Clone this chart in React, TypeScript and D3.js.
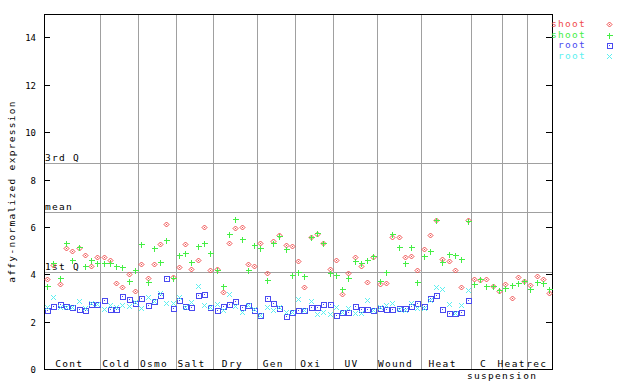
import React from "react";
import * as d3 from "d3";

const groups = ["Cont", "Cold", "Osmo", "Salt", "Dry", "Gen", "Oxi", "UV", "Wound", "Heat", "C", "Heat", "rec"];
const groupSizes = [9, 6, 6, 6, 7, 6, 6, 7, 7, 8, 5, 4, 4];
const subLabel = "suspension";
const yTicks = [0, 2, 4, 6, 8, 10, 12, 14];
const refLines = [
  { label: "3rd Q", value: 8.7 },
  { label: "mean", value: 6.63 },
  { label: "1st Q", value: 4.1 },
];

const shoot1: number[] = [
  3.81, 4.4, 3.58, 5.1, 5.0, 5.1, 4.84, 4.36, 4.72,
  4.72, 4.61, 3.63, 3.46, 4.01, 3.29,
  4.43, 3.84, 4.43, 5.27, 6.12, 3.91,
  4.3, 5.27, 4.25, 4.63, 5.99, 4.19,
  4.25, 3.28, 5.31, 5.95, 5.99, 4.43, 4.36,
  5.31, 4.05, 5.41, 5.67, 5.23, 5.18,
  4.58, 3.46, 5.57, 5.69, 5.31, 4.25,
  4.63, 3.16, 4.05, 4.72, 4.37, 3.67, 4.72,
  3.58, 3.63, 5.57, 5.57, 4.72, 4.77, 4.18,
  5.06, 5.65, 6.28, 4.64, 4.55, 4.19, 3.46, 6.28,
  3.8, 3.75, 3.8, 3.5, 3.29,
  3.6, 3.0, 3.88, 3.71,
  3.54, 3.92, 3.8, 3.21,
];
const shoot2: number[] = [
  3.5, 4.47, 3.84, 5.31, 4.61, 5.15, 4.37, 4.61, 4.47,
  4.47, 4.47, 4.37, 4.32, 3.72, 4.19,
  5.27, 3.67, 5.1, 4.53, 5.44, 3.84,
  4.81, 4.89, 4.53, 5.18, 5.31, 4.89,
  4.19, 3.51, 5.69, 6.33, 5.48, 4.19, 5.23,
  5.1, 3.75, 5.31, 5.62, 5.06, 3.97,
  4.09, 3.92, 5.6, 5.74, 5.31, 4.05,
  3.97, 3.39, 3.84, 4.57, 4.47, 4.63, 4.77,
  3.72, 4.09, 5.69, 5.15, 4.47, 5.15, 3.67,
  4.78, 4.98, 6.28, 4.51, 4.85, 4.81, 4.64, 6.24,
  3.6, 3.8, 3.5, 3.5, 3.33,
  3.42, 3.54, 3.63, 3.71,
  3.37, 3.67, 3.63, 3.37,
];
const root1: (number | null)[] = [
  2.5, 2.67, 2.75, 2.69, 2.62, 2.53, 2.48, 2.75, 2.75,
  2.91, 2.53, 2.53, 3.08, 2.96, 2.79,
  2.99, 2.72, 2.87, 3.12, 3.84, 2.57,
  2.91, 2.66, 2.62, 3.12, 3.16, 2.61,
  2.49, 2.66, 2.74, 2.87, 2.62, 2.7, 2.49,
  2.28, 2.99, 2.79, 2.57, 2.24, 2.43,
  2.49, 2.49, 2.62, 2.62, 2.74, 2.74,
  2.28, 2.43, 2.43, 2.66, 2.53, 2.53, 2.49,
  2.57, 2.53, 2.53, 2.57, 2.57, 2.66, 2.79,
  2.66, 3.0, 3.12, 2.53, 2.36, 2.36, 2.4, 2.91,
  null, null, null, null, null,
  null, null, null, null,
  null, null, null, null,
];
const root2: (number | null)[] = [
  2.62, 3.04, 2.62, 2.62, 2.62, 2.87, 2.57, 2.79, 2.75,
  2.53, 2.7, 2.62, 2.7, 2.67, 2.85,
  2.57, 3.04, 2.87, 3.2, 2.79, 2.79,
  3.04, 2.62, 2.83, 3.5, 2.7, 2.62,
  2.75, 2.49, 3.16, 2.66, 2.43, 2.7, 2.53,
  2.3, 2.62, 2.49, 2.64, 2.43, 2.43,
  2.96, 2.49, 2.87, 2.33, 2.43, 2.33,
  2.62, 2.43, 2.57, 2.38, 2.38, 2.91, 2.49,
  2.62, 2.7, 2.79, 2.53, 2.49, 2.79, 2.57,
  2.57, 2.91, 3.46, 3.37, 2.74, 2.36, 2.7, 3.33,
  null, null, null, null, null,
  null, null, null, null,
  null, null, null, null,
];

const seriesNames = ["shoot", "shoot", "root", "root"];
const RED = "#f04c4c";
const GREEN = "#44ee44";
const BLUE = "#4a4af0";
const CYAN = "#5cf0f0";
const GRID = "#a0a0a0";
const FONT = "'DejaVu Sans Mono', monospace";

type Kind = "diamond" | "plus" | "square" | "x";

function Marker({ x, y, kind, color }: { x: number; y: number; kind: Kind; color: string }) {
  const cx = Math.round(x) + 0.5;
  const cy = Math.round(y) + 0.5;
  if (kind === "diamond") {
    return (
      <g>
        <path d={`M${cx},${cy - 2.5}L${cx + 2.5},${cy}L${cx},${cy + 2.5}L${cx - 2.5},${cy}Z`} fill="none" stroke={color} strokeWidth={1} />
        <rect x={cx - 0.5} y={cy - 0.5} width={1} height={1} fill={color} />
      </g>
    );
  }
  if (kind === "plus") {
    return (
      <path d={`M${cx - 3},${cy}H${cx + 3}M${cx},${cy - 3}V${cy + 3}`} stroke={color} strokeWidth={1} shapeRendering="crispEdges" />
    );
  }
  if (kind === "square") {
    return (
      <g shapeRendering="crispEdges">
        <rect x={cx - 2.5} y={cy - 2.5} width={5} height={5} fill="none" stroke={color} strokeWidth={1} />
        <rect x={cx - 0.5} y={cy - 0.5} width={1} height={1} fill={color} />
      </g>
    );
  }
  return (
    <path d={`M${cx - 2.5},${cy - 2.5}L${cx + 2.5},${cy + 2.5}M${cx - 2.5},${cy + 2.5}L${cx + 2.5},${cy - 2.5}`} stroke={color} strokeWidth={1} />
  );
}

export default function App() {
  const W = 640;
  const H = 384;
  const left = 44;
  const right = 552.3;
  const top = 13.6;
  const bottom = 369.3;
  const N = groupSizes.reduce((a, b) => a + b, 0);
  const x = d3.scaleLinear().domain([0, N]).range([left, right]);
  const y = d3.scaleLinear().domain([0, 15]).range([bottom, top]);

  const bounds: number[] = [];
  let acc = 0;
  groupSizes.forEach((s) => {
    bounds.push(acc);
    acc += s;
  });

  const series: { data: (number | null)[]; kind: Kind; color: string }[] = [
    { data: shoot1, kind: "diamond", color: RED },
    { data: shoot2, kind: "plus", color: GREEN },
    { data: root1, kind: "square", color: BLUE },
    { data: root2, kind: "x", color: CYAN },
  ];

  const legendColors = [RED, GREEN, BLUE, CYAN];
  const legendKinds: Kind[] = ["diamond", "plus", "square", "x"];

  return (
    <svg width={W} height={H} style={{ position: "absolute", left: 0, top: 0, background: "#fff" }} fontFamily={FONT}>
      <rect x={0} y={0} width={W} height={H} fill="#fff" />
      {/* group separators */}
      {bounds.slice(1).map((b, i) => (
        <line key={"v" + i} x1={Math.round(x(b)) + 0.5} x2={Math.round(x(b)) + 0.5} y1={top} y2={bottom} stroke={GRID} strokeWidth={1} shapeRendering="crispEdges" />
      ))}
      {/* reference lines */}
      {refLines.map((r, i) => (
        <g key={"r" + i}>
          <line x1={left} x2={right} y1={Math.round(y(r.value)) + 0.5} y2={Math.round(y(r.value)) + 0.5} stroke={GRID} strokeWidth={1} shapeRendering="crispEdges" />
          <text x={left + 1} y={y(r.value) - 2} fontSize={9.5} letterSpacing={1.3} fill="#000">{r.label}</text>
        </g>
      ))}
      {/* frame */}
      <rect x={Math.round(left) + 0.5} y={Math.round(top) + 0.5} width={Math.round(right) - Math.round(left)} height={Math.round(bottom) - Math.round(top)} fill="none" stroke="#000" strokeWidth={1} shapeRendering="crispEdges" />
      {/* y ticks */}
      {yTicks.map((t) => {
        const yy = Math.round(y(t)) + 0.5;
        return (
          <g key={"t" + t}>
            <line x1={left} x2={left + 6} y1={yy} y2={yy} stroke="#000" shapeRendering="crispEdges" />
            <line x1={right - 6} x2={right} y1={yy} y2={yy} stroke="#000" shapeRendering="crispEdges" />
            <text x={36} y={yy + 3.5} fontSize={9} textAnchor="end" fill="#000">{t}</text>
          </g>
        );
      })}
      {/* y label */}
      <text transform={`translate(15,${(top + bottom) / 2}) rotate(-90)`} textAnchor="middle" fontSize={9.5} letterSpacing={1.3} fill="#000">affy-normalized expression</text>
      {/* group labels */}
      {groups.map((g, i) => {
        const cx = x(bounds[i] + groupSizes[i] / 2) - 3;
        return (
          <text key={"g" + i} x={cx} y={367} textAnchor="middle" fontSize={9.5} letterSpacing={1.3} fill="#000">{g}</text>
        );
      })}
      <text x={x(bounds[10] + groupSizes[10])} y={379} textAnchor="middle" fontSize={9.5} letterSpacing={1.3} fill="#000">{subLabel}</text>
      {/* points */}
      {series.map((s, si) => (
        <g key={"s" + si}>
          {s.data.map((v, i) =>
            v == null ? null : <Marker key={i} x={x(i + 0.5)} y={y(v)} kind={s.kind} color={s.color} />
          )}
        </g>
      ))}
      {/* legend */}
      {seriesNames.map((n, i) => (
        <g key={"l" + i}>
          <text x={586} y={27 + i * 10.7} textAnchor="end" fontSize={9.5} letterSpacing={1.3} fill={legendColors[i]}>{n}</text>
          <Marker x={609} y={24 + i * 10.7} kind={legendKinds[i]} color={legendColors[i]} />
        </g>
      ))}
    </svg>
  );
}
